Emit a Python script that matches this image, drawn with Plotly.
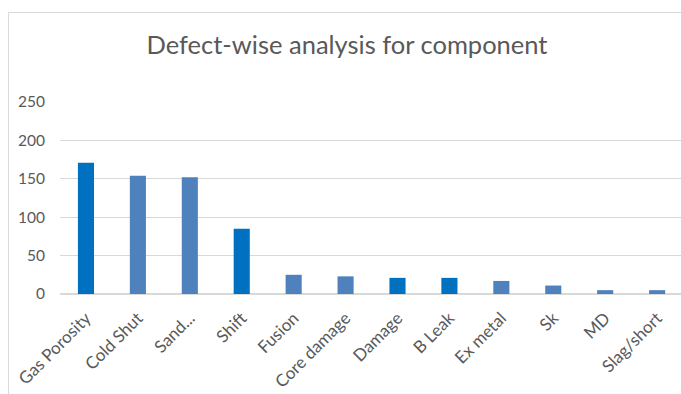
import plotly.graph_objects as go

# Defect counts per category
categories = ["Gas Porosity", "Cold Shut", "Sand...", "Shift", "Fusion", "Core damage",
              "Damage", "B Leak", "Ex metal", "Sk", "MD", "Slag/short"]
counts = [171, 154, 152, 85, 25, 23, 21, 21, 17, 11, 5, 5]
highlight = [True, False, False, True, False, False, True, True, False, False, False, False]

DARK = "#0070C0"
LIGHT = "#4F81BD"
TEXT = "#595959"
GRID = "#D9D9D9"
FONT = "Lato, Carlito, Calibri, sans-serif"

W, H = 681, 394
L, R, T, B = 60, 0, 102, 100

fig = go.Figure(
    go.Bar(
        x=categories,
        y=counts,
        marker=dict(color=[DARK if h else LIGHT for h in highlight], line=dict(width=0)),
        width=0.31,
        hoverinfo="x+y",
    )
)

plot_w = W - L - R
plot_h = H - T - B

fig.update_layout(
    width=W,
    height=H,
    margin=dict(l=L, r=R, t=T, b=B, pad=0),
    paper_bgcolor="white",
    plot_bgcolor="white",
    showlegend=False,
    font=dict(family=FONT, color=TEXT),
    title=dict(
        text="Defect-wise analysis for component",
        x=347 / W,
        xanchor="center",
        y=1 - 45 / H,
        yanchor="middle",
        font=dict(size=25.5, color=TEXT, family=FONT),
    ),
    xaxis=dict(
        range=[-0.5, 11.46],
        tickangle=-45,
        tickfont=dict(size=17, color=TEXT),
        showgrid=False,
        showline=False,
        ticks="",
        ticklabelstandoff=10,
    ),
    yaxis=dict(
        range=[0, 250],
        tickvals=[0, 50, 100, 150, 200, 250],
        tickfont=dict(size=15.5, color=TEXT),
        showgrid=True,
        gridcolor=GRID,
        gridwidth=1,
        zeroline=True,
        zerolinecolor=GRID,
        zerolinewidth=1.5,
        showline=False,
        ticks="",
        ticklabelstandoff=14,
    ),
    shapes=[
        # chart area frame
        dict(
            type="rect",
            xref="paper",
            yref="paper",
            x0=(8.5 - L) / plot_w,
            x1=(W + 20 - L) / plot_w,
            y0=-(H + 20 - T - plot_h) / plot_h,
            y1=(T + plot_h - 12.5) / plot_h,
            line=dict(color=GRID, width=1),
            fillcolor="rgba(0,0,0,0)",
            layer="below",
        )
    ],
)

fig.write_html("out.html")
